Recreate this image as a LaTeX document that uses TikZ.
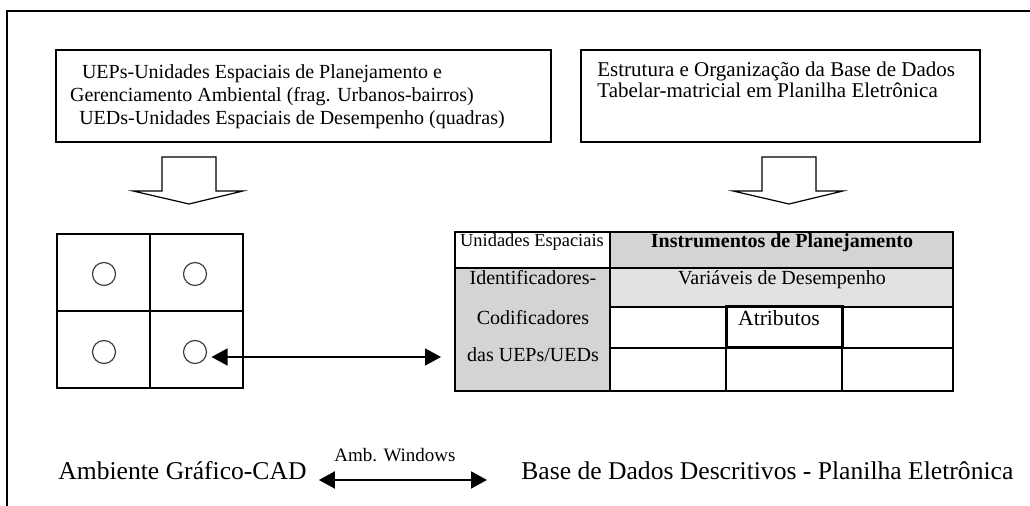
\documentclass[tikz,border=0pt]{standalone}
\usepackage{fontspec}
\setmainfont{Liberation Serif}
\usetikzlibrary{arrows.meta}
\definecolor{cellgray}{RGB}{212,212,212}
\definecolor{rowgray}{RGB}{226,226,226}
\begin{document}
\begin{tikzpicture}[x=0.5pt,y=-0.5pt,
  txt/.style={inner sep=0pt,font=\fontsize{10.5}{12}\selectfont},
  tabtxt/.style={inner sep=0pt,font=\fontsize{10}{12}\selectfont},
  bigtxt/.style={inner sep=0pt,font=\fontsize{12.8}{15}\selectfont},
  blockarrow/.style={draw,line width=0.6pt,fill=white},
  spot/.style={circle,draw=black!75,line width=0.6pt,minimum size=11.5pt,inner sep=0pt},
  dblarrow/.style={{Triangle[length=8pt,width=8.5pt]}-{Triangle[length=8pt,width=8.5pt]},line width=0.75pt}]
\useasboundingbox (0,0) rectangle (1030,506);
\draw[line width=1pt] (7,506) -- (7,11) -- (1030,11);
% top boxes
\draw[line width=0.6pt] (56,50) rectangle (551,142);
\draw[line width=0.6pt] (581,50) rectangle (980,142);
\node[txt,font=\fontsize{10}{12}\selectfont,anchor=base] (uep) at (262,79) {UEPs-Unidades Espaciais de Planejamento e};
\node[txt,font=\fontsize{10}{12}\selectfont,anchor=base] (ger) at (272,102) {Gerenciamento Ambiental (frag. Urbanos-bairros)};
\node[txt,font=\fontsize{10}{12}\selectfont,anchor=base] (ued) at (292,125) {UEDs-Unidades Espaciais de Desempenho (quadras)};
\node[txt,anchor=base west] (est) at (597,77) {Estrutura e Organização da Base de Dados};
\node[txt,anchor=base west] (tab) at (597,98) {Tabelar-matricial em Planilha Eletrônica};
\foreach \ax in {162,762}
  \draw[blockarrow] (\ax,157) -- +(54,0) -- +(54,34) -- +(81,34) -- +(27,47) -- +(-29,34) -- +(0,34) -- cycle;
% CAD grid
\draw[line width=0.6pt] (57,234) rectangle (243,388);
\draw[line width=0.6pt] (150,234) -- (150,388) (57,311) -- (243,311);
\node[spot] (c1) at (104,274) {};
\node[spot] (c2) at (195,274) {};
\node[spot] (c3) at (104,352) {};
\node[spot] (c4) at (195,352) {};
% table
\fill[cellgray] (610,232) rectangle (953,268);
\fill[cellgray] (455,268) rectangle (610,391);
\fill[rowgray] (610,268) rectangle (953,307);
\draw[line width=0.6pt] (455,232) rectangle (953,391);
\draw[line width=0.6pt] (610,232) -- (610,391) (455,268) -- (953,268) (610,307) -- (953,307)
  (610,348) -- (953,348) (726,307) -- (726,391) (842,307) -- (842,391);
\draw[line width=1.5pt] (726,307) rectangle (842,348);
\node[inner sep=0pt,font=\fontsize{9.2}{11}\selectfont,anchor=base] (ue) at (532,247) {Unidades Espaciais};
\node[tabtxt,font=\fontsize{10}{12}\selectfont\bfseries,anchor=base] (ip) at (782,248) {Instrumentos de Planejamento};
\node[tabtxt,anchor=base] (vd) at (782,285) {Variáveis de Desempenho};
\node[tabtxt,anchor=base] (id1) at (533,285) {Identificadores-};
\node[tabtxt,anchor=base] (id2) at (533,325) {Codificadores};
\node[tabtxt,anchor=base] (id3) at (533,362) {das UEPs/UEDs};
\node[tabtxt,font=\fontsize{10.8}{12}\selectfont,anchor=base] (atr) at (779,326) {Atributos};
\coordinate (tw) at (441,357);
\draw[dblarrow,shorten <=2.2pt] (c4.east |- tw) -- (tw);
% bottom line
\node[bigtxt,anchor=base west] (cad) at (58,480) {Ambiente Gráfico-CAD};
\node[bigtxt,anchor=base west] (bdd) at (521,480) {Base de Dados Descritivos - Planilha Eletrônica};
\node[inner sep=0pt,font=\fontsize{9.5}{11}\selectfont,anchor=base] (win) at (395,462) {Amb. Windows};
\draw[dblarrow,line width=1pt] ([xshift=6pt]cad.base east) -- ([xshift=-17pt]bdd.base west);
\end{tikzpicture}
\end{document}
